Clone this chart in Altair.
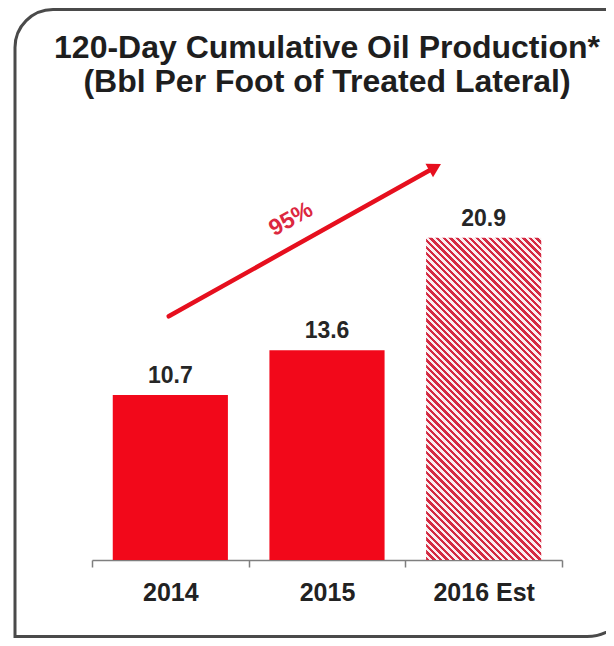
import math
import altair as alt
import pandas as pd

# ---------------- data ----------------
categories = ["2014", "2015", "2016 Est"]
values = [10.7, 13.6, 20.9]
estimated = [False, False, True]
value_labels = ["10.7", "13.6", "20.9"]

title_line1 = "120-Day Cumulative Oil Production*"
title_line2 = "(Bbl Per Foot of Treated Lateral)"

# growth arrow, in category-index units (band i spans [i, i+1]) and in data units
arrow_x = [0.49, 2.19]
arrow_y = [15.8, 25.47]
arrow_label = ["95%"]
arrow_label_x = [1.27]
arrow_label_y = [22.1]

# ---------------- styling ----------------
FONT = "Liberation Sans"
RED = "#f2081a"
ARROW_RED = "#e60f1e"
W, H = 470, 401
Y_MAX = 26
BAND_FRAC = 0.735

df = pd.DataFrame({"year": categories, "value": values, "est": estimated, "label": value_labels})
arrow_df = pd.DataFrame({"ax": arrow_x, "ay": arrow_y})
head_df = pd.DataFrame({"ax": arrow_x[-1:], "ay": arrow_y[-1:]})
lab_df = pd.DataFrame({"ax": arrow_label_x, "ay": arrow_label_y, "t": arrow_label})

# hatch pattern for the estimated bar, built as a striped linear gradient
bar_w = W / len(categories) * BAND_FRAC
bar_h = values[2] / Y_MAX * H
p = bar_w / bar_h
s = (p + 1) / (p * p + 1)
n_periods = 66
stops = []
for k in range(n_periods):
    a = k / n_periods
    m = (k + 0.5) / n_periods
    b = (k + 1) / n_periods
    stops += [
        {"offset": a, "color": "#d42a42"},
        {"offset": m, "color": "#d42a42"},
        {"offset": m, "color": "#fbeef0"},
        {"offset": b, "color": "#fbeef0"},
    ]
hatch = {"gradient": "linear", "x1": 0, "y1": 1, "x2": p * s, "y2": 1 - s, "stops": stops}

xscale = alt.Scale(domain=categories, paddingInner=0, paddingOuter=0)
yscale = alt.Scale(domain=[0, Y_MAX], nice=False, zero=True)
iscale = alt.Scale(domain=[0, len(categories)], nice=False, zero=True)

x_axis = alt.Axis(
    title=None, labelAngle=0, tickBand="extent",
    domainColor="#7f7f7f", domainWidth=1.5,
    tickColor="#7f7f7f", tickWidth=1.5, tickSize=7,
    labelFont=FONT, labelFontSize=25, labelFontWeight="bold",
    labelColor="#222222", labelPadding=13, grid=False,
)

base = alt.Chart(df)

bars = base.mark_bar(color=RED, width=alt.RelativeBandSize(BAND_FRAC)).encode(
    x=alt.X("year:N", scale=xscale, axis=x_axis, sort=categories),
    y=alt.Y("value:Q", scale=yscale, axis=None),
).transform_filter("!datum.est")

hatched = base.mark_bar(fill=hatch, width=alt.RelativeBandSize(BAND_FRAC)).encode(
    x=alt.X("year:N", scale=xscale, axis=None, sort=categories),
    y=alt.Y("value:Q", scale=yscale, axis=None),
).transform_filter("datum.est")

labels = base.mark_text(
    font=FONT, fontSize=23, fontWeight="bold", color="#262626",
    baseline="alphabetic", dy=-12,
).encode(
    x=alt.X("year:N", scale=xscale, axis=None, sort=categories),
    y=alt.Y("value:Q", scale=yscale, axis=None),
    text="label:N",
)

arrow_line = alt.Chart(arrow_df).mark_line(color=ARROW_RED, strokeWidth=4.5, strokeCap="round").encode(
    x=alt.X("ax:Q", scale=iscale, axis=None),
    y=alt.Y("ay:Q", scale=yscale, axis=None),
)

arrow_head = alt.Chart(head_df).mark_point(
    shape="triangle-up", filled=True, size=240, angle=60.7, color=ARROW_RED, opacity=1,
).encode(
    x=alt.X("ax:Q", scale=iscale, axis=None),
    y=alt.Y("ay:Q", scale=yscale, axis=None),
)

arrow_text = alt.Chart(lab_df).mark_text(
    font=FONT, fontSize=23, fontWeight="bold", color="#dc2840",
    angle=331, align="center", baseline="middle",
).encode(
    x=alt.X("ax:Q", scale=iscale, axis=None),
    y=alt.Y("ay:Q", scale=yscale, axis=None),
    text="t:N",
)

one = alt.Data(values=[{"a": 1}])

frame = alt.Chart(one).mark_rect(
    fill="#ffffff", fillOpacity=0, stroke="#4a4a4a", strokeWidth=3,
    cornerRadiusTopLeft=38, cornerRadiusBottomRight=45,
).encode(
    x=alt.value(-77), x2=alt.value(540), y=alt.value(-149.5), y2=alt.value(477.5),
)

t1 = alt.Chart(one).mark_text(
    text=title_line1, font=FONT, fontSize=32, fontWeight="bold", color="#1e1e1e",
    align="center", baseline="alphabetic",
).encode(x=alt.value(W / 2), y=alt.value(-101))

t2 = alt.Chart(one).mark_text(
    text=title_line2, font=FONT, fontSize=32, fontWeight="bold", color="#1e1e1e",
    align="center", baseline="alphabetic",
).encode(x=alt.value(W / 2), y=alt.value(-67))

chart = alt.layer(
    frame, bars, hatched, labels, arrow_line, arrow_head, arrow_text, t1, t2
).resolve_scale(x="independent").properties(
    width=W, height=H,
    autosize=alt.AutoSizeParams(type="none"),
    padding={"left": 84, "top": 151, "right": 44, "bottom": 78},
    background="#ffffff",
).configure_view(stroke=None)

chart.save("out.html", embed_options={"renderer": "svg", "actions": False})
